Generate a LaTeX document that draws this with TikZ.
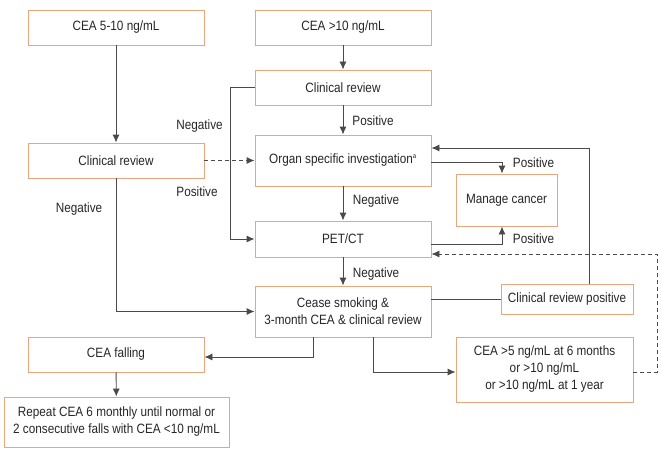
\documentclass[tikz,border=0pt]{standalone}
\usepackage{fontspec}
\setmainfont[FakeStretch=0.87]{Liberation Sans}
\usepackage{tikz}
\usetikzlibrary{positioning,arrows.meta,calc}
\definecolor{boxorange}{HTML}{E9A57C}
\definecolor{linegray}{HTML}{4A4A4A}
\definecolor{textgray}{HTML}{262626}
\tikzstyle{box1} = [rectangle, draw=boxorange, line width=0.9pt, fill=white, %
   text centered, align=center, inner sep=0pt, text=textgray]
\tikzstyle{line} = [draw=linegray, line width=0.9pt, -{Latex[length=8pt,width=7pt]}]
\tikzstyle{plain} = [draw=linegray, line width=0.9pt]
\tikzstyle{dline} = [line, dashed, dash pattern=on 4pt off 3pt]
\tikzstyle{lbl} = [text=textgray, inner sep=0pt]

\begin{document}
\begin{tikzpicture}[x=1pt, y=-1pt, font=\fontsize{13.5}{17}\selectfont]
   \useasboundingbox (0,0) rectangle (662,452);

   % Place nodes
   \node[box1, minimum width=176pt, minimum height=35pt] (cea5) at (116,27.5) {CEA 5-10 ng/mL};
   \node[box1, minimum width=176pt, minimum height=35pt] (cea10) at (343,27.5) {CEA >10 ng/mL};
   \node[box1, minimum width=176pt, minimum height=35pt] (reviewR) at (343,87.5) {Clinical review};
   \node[box1, minimum width=176pt, minimum height=35pt] (reviewL) at (116,160.5) {Clinical review};
   \node[box1, minimum width=176pt, minimum height=51pt] (organ) at (343,160.5) {Organ specific investigation\textsuperscript{\fontsize{7}{7}\selectfont a}};
   \node[box1, minimum width=101pt, minimum height=52pt] (manage) at (506.5,200) {Manage cancer};
   \node[box1, minimum width=176pt, minimum height=36pt] (pet) at (343,239) {PET/CT};
   \node[box1, minimum width=176pt, minimum height=51pt] (cease) at (343,311.5) {Cease smoking \&\\3-month CEA \& clinical review};
   \node[box1, minimum width=132pt, minimum height=30pt] (revpos) at (567,299) {Clinical review positive};
   \node[box1, minimum width=177pt, minimum height=65pt] (ceahigh) at (544.5,369.5) {CEA >5 ng/mL at 6 months\\or >10 ng/mL\\or >10 ng/mL at 1 year};
   \node[box1, minimum width=176pt, minimum height=35pt] (falling) at (116,354.5) {CEA falling};
   \node[box1, minimum width=225pt, minimum height=50pt] (repeat) at (116.5,422) {Repeat CEA 6 monthly until normal or\\2 consecutive falls with CEA <10 ng/mL};

   % Edge labels
   \node[lbl] (negA) at (199.5,126) {Negative};
   \node[lbl] (posA) at (197,192) {Positive};
   \node[lbl] (negB) at (79,209) {Negative};
   \node[lbl] (posB) at (373,121) {Positive};
   \node[lbl] (negC) at (376,201) {Negative};
   \node[lbl] (posC) at (533.5,163) {Positive};
   \node[lbl] (posD) at (533.5,239) {Positive};
   \node[lbl] (negD) at (376,274) {Negative};

   \coordinate (loopR) at (657,254);

   % Draw edges
   \path [line] (cea5) -- (reviewL);
   \path [line] (cea10) -- (reviewR);
   \path [line] (reviewR) -- (organ);
   \path [line] (reviewR.west) -- ++(-24,0) |- (pet.west);
   \path [dline] (reviewL.east) -- (organ.west);
   \path [line] (reviewL.south) |- (cease.west);
   \path [line] (organ) -- (pet);
   \path [line] ([yshift=-1.5pt]organ.east) -| ([xshift=-4.5pt]manage.north);
   \path [line] ([xshift=22pt]revpos.north) |- ([yshift=12.5pt]organ.east);
   \path [line] ([yshift=-5pt]pet.east) -| ([xshift=-4.5pt]manage.south);
   \path [dline] ([yshift=-2.5pt]ceahigh.east) -| (loopR) -- ([yshift=-15pt]pet.east);
   \path [line] (pet) -- (cease);
   \path [plain] (revpos.west) -- (revpos.west -| cease.east);
   \path [line] ([xshift=30pt]cease.south) |- ([yshift=-2.5pt]ceahigh.west);
   \path [line] ([xshift=-30pt]cease.south) |- ([yshift=-2.5pt]falling.east);
   \path [line] (falling) -- (repeat);
\end{tikzpicture}
\end{document}
